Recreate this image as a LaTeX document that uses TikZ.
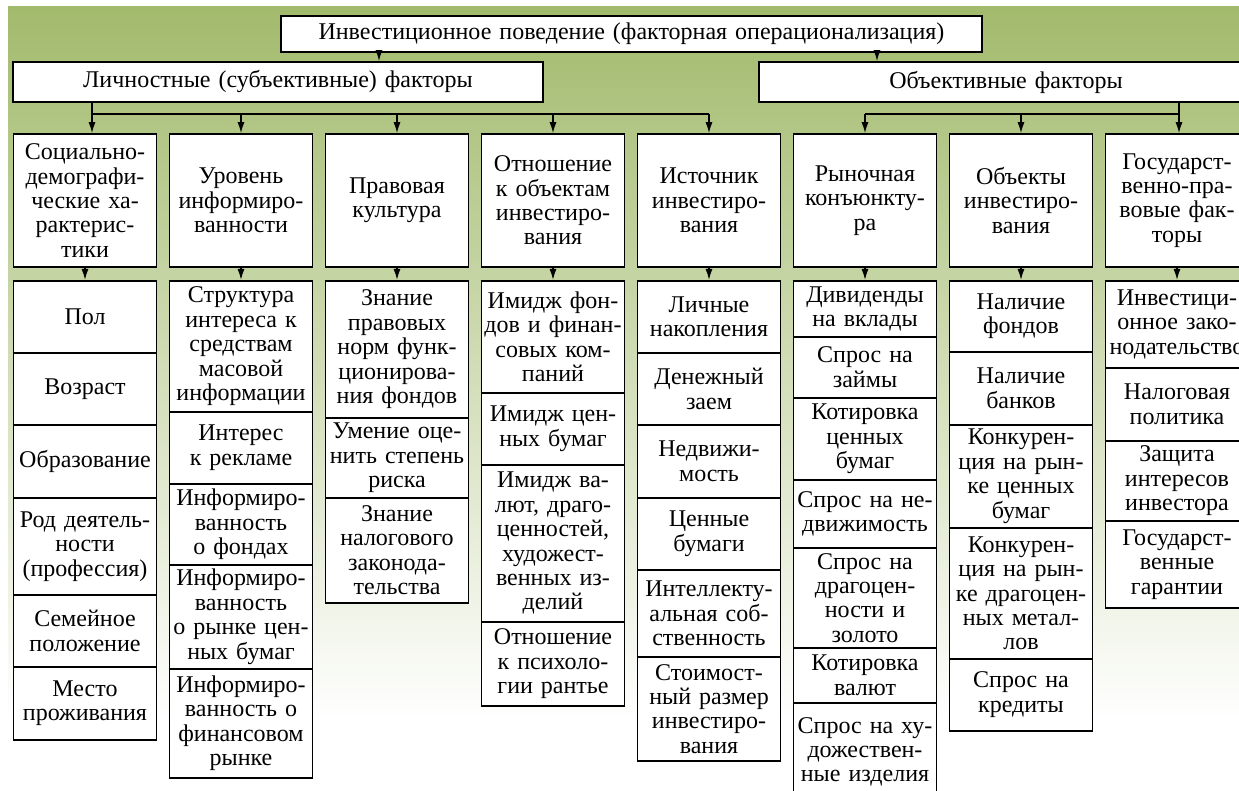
\documentclass[tikz,border=0pt]{standalone}
\usepackage{fontspec}
\setmainfont{Liberation Serif}
\usetikzlibrary{arrows.meta}
\definecolor{bggreen}{RGB}{162,186,108}
\tikzset{
  box/.style={draw, fill=white, line width=0.8pt, text width=69pt, inner xsep=1.25pt, inner ysep=0pt, align=center, font=\fontsize{12}{12.2}\selectfont},
  cell/.style={box, anchor=north},
  link/.style={line width=0.7pt},
  >={Latex[length=5.5pt,width=3.5pt]}
}

\begin{document}
\begin{tikzpicture}[x=0.5pt,y=-0.5pt]
			\useasboundingbox (0,0) rectangle (1239,791);
			\clip (0,0) rectangle (1239,791);
			\shade[top color=bggreen, bottom color=white] (8,7) rectangle (1239,720);
			
			% upper levels
			\node[box, text width=348pt, minimum height=18pt] (top) at (631.5,34) {Инвестиционное поведение (факторная операционализация)};
			\node[box, text width=262.5pt, minimum height=20pt] (lich) at (278,82) {Личностные (субъективные) факторы};
			\node[box, text width=244.5pt, minimum height=20pt] (obj) at (1006,82) {Объективные факторы};
			
			\foreach \x/\txt [count=\i] in {85/{Социально-\\демографи-\\ческие ха-\\рактерис-\\тики},
				241/{Уровень\\информиро-\\ванности},
				397/{Правовая\\культура},
				553/{Отношение\\к объектам\\инвестиро-\\вания},
				709/{Источник\\инвестиро-\\вания},
				865/{Рыночная\\конъюнкту-\\ра},
				1021/{Объекты\\инвестиро-\\вания},
				1177/{Государст-\\венно-пра-\\вовые фак-\\торы}}
			\node[box, minimum height=66.5pt] (h\i) at (\x,200.5) {\txt};
			
			% lower boxes
			\foreach \ya/\yb/\txt [count=\i] in {280/352/Пол, 352/424/Возраст, 424/497/Образование,
				497/594/{Род деятель-\\ности\\(профессия)}, 594/666/{Семейное\\положение}, 666/739/{Место\\проживания}}
			\node[cell, minimum height=(\yb-\ya)*0.5pt, name=c1-\i] at (85,\ya) {\txt};
			
			\foreach \ya/\yb/\txt [count=\i] in {280/411/{Структура\\интереса к\\средствам\\масовой\\информации},
				411/483/{Интерес\\к рекламе}, 483/564/{Информиро-\\ванность\\о фондах},
				564/668/{Информиро-\\ванность\\о рынке цен-\\ных бумаг}, 668/777/{Информиро-\\ванность о\\финансовом\\рынке}}
			\node[cell, minimum height=(\yb-\ya)*0.5pt, name=c2-\i] at (241,\ya) {\txt};
			
			\foreach \ya/\yb/\txt [count=\i] in {280/417/{Знание\\правовых\\норм функ-\\ционирова-\\ния фондов},
				417/497/{Умение оце-\\нить степень\\риска}, 497/602/{Знание\\налогового\\законода-\\тельства}}
			\node[cell, minimum height=(\yb-\ya)*0.5pt, name=c3-\i] at (397,\ya) {\txt};
			
			\foreach \ya/\yb/\txt [count=\i] in {280/392/{Имидж фон-\\дов и финан-\\совых ком-\\паний},
				392/464/{Имидж цен-\\ных бумаг}, 464/621/{Имидж ва-\\лют, драго-\\ценностей,\\художест-\\венных из-\\делий},
				621/705/{Отношение\\к психоло-\\гии рантье}}
			\node[cell, minimum height=(\yb-\ya)*0.5pt, name=c4-\i] at (553,\ya) {\txt};
			
			\foreach \ya/\yb/\txt [count=\i] in {280/352/{Личные\\накопления}, 352/424/{Денежный\\заем},
				424/497/{Недвижи-\\мость}, 497/569/{Ценные\\бумаги}, 569/656/{Интеллекту-\\альная соб-\\ственность},
				656/760/{Стоимост-\\ный размер\\инвестиро-\\вания}}
			\node[cell, minimum height=(\yb-\ya)*0.5pt, name=c5-\i] at (709,\ya) {\txt};
			
			\foreach \ya/\yb/\txt [count=\i] in {280/336/{Дивиденды\\на вклады}, 336/397/{Спрос на\\займы},
				397/479/{Котировка\\ценных\\бумаг}, 479/547/{Спрос на не-\\движимость},
				547/647/{Спрос на\\драгоцен-\\ности и\\золото}, 647/702/{Котировка\\валют},
				702/800/{Спрос на ху-\\дожествен-\\ные изделия}}
			\node[cell, minimum height=(\yb-\ya)*0.5pt, name=c6-\i] at (865,\ya) {\txt};
			
			\foreach \ya/\yb/\txt [count=\i] in {280/351/{Наличие\\фондов}, 351/424/{Наличие\\банков},
				424/527/{Конкурен-\\ция на рын-\\ке ценных\\бумаг}, 527/658/{Конкурен-\\ция на рын-\\ке драгоцен-\\ных метал-\\лов},
				658/730/{Спрос на\\кредиты}}
			\node[cell, minimum height=(\yb-\ya)*0.5pt, name=c7-\i] at (1021,\ya) {\txt};
			
			\foreach \ya/\yb/\txt [count=\i] in {280/367/{Инвестици-\\онное зако-\\нодательство}, 367/440/{Налоговая\\политика},
				440/520/{Защита\\интересов\\инвестора}, 520/607/{Государст-\\венные\\гарантии}}
			\node[cell, minimum height=(\yb-\ya)*0.5pt, name=c8-\i] at (1177,\ya) {\txt};
			
			% connectors
			\coordinate (ta) at (379,0);
			\coordinate (tb) at (877,0);
			\coordinate (bl) at (92,114);
			\coordinate (br) at (1179,114);
			\draw[link,->] (top.south -| ta) -- (lich.north -| ta);
			\draw[link,->] (top.south -| tb) -- (obj.north -| tb);
			
			\draw[link] (lich.south -| bl) -- (bl) -- (bl -| h5);
			\draw[link,->] (bl) -- (h1.north -| bl);
			\foreach \i in {2,...,5}
			\draw[link,->] (bl -| h\i) -- (h\i.north);
			
			\draw[link] (obj.south -| br) -- (br) -- (br -| h6);
			\draw[link,->] (br) -- (h8.north -| br);
			\foreach \i in {6,7}
			\draw[link,->] (br -| h\i) -- (h\i.north);
			
			\foreach \i in {1,...,8}
			\draw[link,->] (h\i.south) -- (c\i-1.north);
\end{tikzpicture}
\end{document}
